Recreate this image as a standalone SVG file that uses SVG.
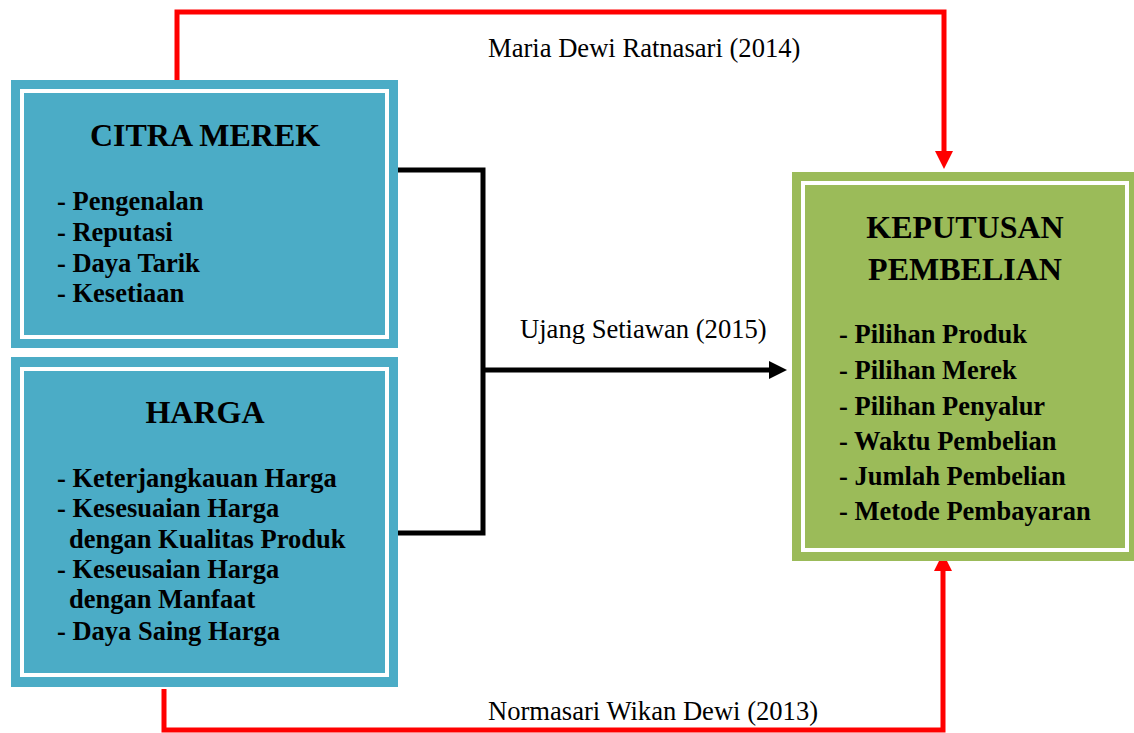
<svg xmlns="http://www.w3.org/2000/svg" width="1134" height="733" viewBox="0 0 1134 733">
  <style>
    .t { font-family: "Liberation Serif", "Times New Roman", serif; fill: #000; }
    .title { font-size: 32px; font-weight: bold; text-anchor: middle; }
    .item { font-size: 26.5px; font-weight: bold; }
    .lbl { font-size: 26.6px; }
    .teal { fill: #4BACC6; }
    .green { fill: #9BBB59; }
    .inner { fill: none; stroke: #FFFFFF; stroke-width: 4; }
    .red { fill: none; stroke: #FF0000; stroke-width: 5; }
    .blk { fill: none; stroke: #000000; stroke-width: 5; }
  </style>
  <defs>
    <marker id="arrRed" markerUnits="userSpaceOnUse" viewBox="0 0 18 18" markerWidth="18" markerHeight="18" refX="3" refY="9" orient="auto">
      <path d="M0,0 L18,9 L0,18 z" fill="#FF0000"/>
    </marker>
    <marker id="arrBlk" markerUnits="userSpaceOnUse" viewBox="0 0 18 18" markerWidth="18" markerHeight="18" refX="3" refY="9" orient="auto">
      <path d="M0,0 L18,9 L0,18 z" fill="#000000"/>
    </marker>
  </defs>
  <rect width="1134" height="733" fill="#FFFFFF"/>

  <g id="connectors">
    <path class="red" d="M177 80 V12 H944 V154" marker-end="url(#arrRed)"/>
    <path class="red" d="M164 689 V730 H943 V568" marker-end="url(#arrRed)"/>
    <path class="blk" d="M398 170 H483 V533 H398"/>
    <path class="blk" d="M483 370 H772" marker-end="url(#arrBlk)"/>
    <text class="t lbl" x="488" y="57">Maria Dewi Ratnasari (2014)</text>
    <text class="t lbl" x="520" y="338">Ujang Setiawan (2015)</text>
    <text class="t lbl" x="488" y="720">Normasari Wikan Dewi (2013)</text>
  </g>

  <g id="citra-merek">
    <rect class="teal" x="11" y="80" width="387" height="268"/>
    <rect class="inner" x="22" y="91" width="365" height="246"/>
    <text class="t title" x="205" y="146">CITRA MEREK</text>
    <text class="t item" x="57" y="210">- Pengenalan</text>
    <text class="t item" x="57" y="241">- Reputasi</text>
    <text class="t item" x="57" y="272">- Daya Tarik</text>
    <text class="t item" x="57" y="302">- Kesetiaan</text>
  </g>

  <g id="harga">
    <rect class="teal" x="11" y="357" width="387" height="330"/>
    <rect class="inner" x="22" y="369" width="365" height="306"/>
    <text class="t title" x="205" y="423">HARGA</text>
    <text class="t item" x="57" y="487">- Keterjangkauan Harga</text>
    <text class="t item" x="57" y="517">- Kesesuaian Harga</text>
    <text class="t item" x="69" y="548">dengan Kualitas Produk</text>
    <text class="t item" x="57" y="578">- Keseusaian Harga</text>
    <text class="t item" x="69" y="608">dengan Manfaat</text>
    <text class="t item" x="57" y="640">- Daya Saing Harga</text>
  </g>

  <g id="keputusan-pembelian">
    <rect class="green" x="792" y="172" width="342" height="389"/>
    <rect class="inner" x="803" y="183" width="324" height="367"/>
    <text class="t title" x="965" y="238">KEPUTUSAN</text>
    <text class="t title" x="965" y="280">PEMBELIAN</text>
    <text class="t item" x="839" y="343">- Pilihan Produk</text>
    <text class="t item" x="839" y="379">- Pilihan Merek</text>
    <text class="t item" x="839" y="415">- Pilihan Penyalur</text>
    <text class="t item" x="839" y="450">- Waktu Pembelian</text>
    <text class="t item" x="839" y="485">- Jumlah Pembelian</text>
    <text class="t item" x="839" y="520">- Metode Pembayaran</text>
  </g>
</svg>
